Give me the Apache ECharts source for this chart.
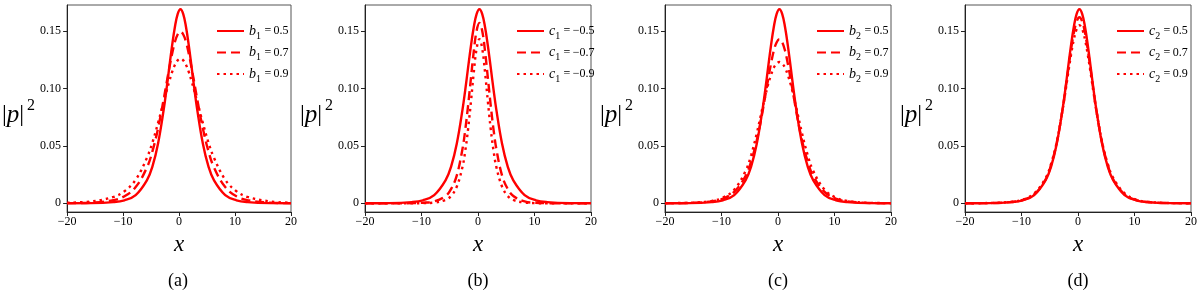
<!DOCTYPE html>
<html><head><meta charset="utf-8">
<script src="https://cdn.jsdelivr.net/npm/echarts@6/dist/echarts.min.js"></script>
<style>html,body{margin:0;padding:0;background:#fff}#c{width:1200px;height:292px}</style>
</head><body><div id="c"></div>
<script>
// ---- data ----
const xValues = [-20, -15.75, -11.75, -9.75, -7.75, -5.75, -4.75, -3.75, -2.75, -2.25, -1.75, -1.25, -0.75, -0.25, 0.25, 0.75, 1.25, 1.75, 2.25, 2.75, 3.25, 4.25, 5.25, 6.25, 8.25, 10.25, 12.25, 16.25, 20];
const xTicks = [-20, -10, 0, 10, 20];
const yTicks = [0, 0.05, 0.10, 0.15];
const panelLabels = ['(a)', '(b)', '(c)', '(d)'];
const paramSymbols = [['b', '1'], ['c', '1'], ['b', '2'], ['c', '2']];
const paramValues = [['0.5', '0.7', '0.9'], ['−0.5', '−0.7', '−0.9'], ['0.5', '0.7', '0.9'], ['0.5', '0.7', '0.9']];

const baseCurve = [0.00002,0.00013,0.0010,0.0026,0.0071,0.0199,0.0321,0.0521,0.0813,0.0990,0.1183,0.1371,0.1533,0.1648,0.1690,0.1648,0.1533,0.1371,0.1183,0.0990,0.0813,0.0521,0.0321,0.0199,0.0071,0.0026,0.0010,0.00013,0.00002];
const b1_07 = [0.0001,0.00054,0.0027,0.0061,0.0141,0.0311,0.0454,0.0653,0.0904,0.1042,0.1175,0.1301,0.1404,0.1470,0.1495,0.1470,0.1404,0.1301,0.1175,0.1042,0.0904,0.0653,0.0454,0.0311,0.0141,0.0061,0.0027,0.00054,0.0001];
const b1_09 = [0.0005,0.0016,0.0055,0.0105,0.0205,0.0395,0.0530,0.0700,0.0885,0.0975,0.1062,0.1142,0.1205,0.1245,0.1260,0.1245,0.1205,0.1142,0.1062,0.0975,0.0885,0.0700,0.0530,0.0395,0.0205,0.0105,0.0055,0.0016,0.0005];
const c1_07 = [0,0.00001,0.00011,0.00046,0.0016,0.0063,0.0126,0.0243,0.0473,0.0642,0.0853,0.1090,0.1322,0.1501,0.1570,0.1501,0.1322,0.1090,0.0853,0.0642,0.0473,0.0243,0.0126,0.0063,0.0016,0.00046,0.00011,0.00001,0];
const c1_09 = [0,0,0.00003,0.00013,0.00063,0.0029,0.0064,0.0146,0.0316,0.0458,0.0649,0.0885,0.1138,0.1347,0.1430,0.1347,0.1138,0.0885,0.0649,0.0458,0.0316,0.0146,0.0064,0.0029,0.00063,0.00013,0.00003,0,0];
const b2_07 = [0.00006,0.0003,0.0017,0.0040,0.0099,0.0237,0.0365,0.0549,0.0795,0.0937,0.1078,0.1213,0.1328,0.1401,0.1430,0.1401,0.1328,0.1213,0.1078,0.0937,0.0795,0.0549,0.0365,0.0237,0.0099,0.0040,0.0017,0.0003,0.00006];
const b2_09 = [0.0001,0.0004,0.0020,0.0049,0.0118,0.0280,0.0420,0.0610,0.0830,0.0935,0.1035,0.1115,0.1180,0.1215,0.1230,0.1215,0.1180,0.1115,0.1035,0.0935,0.0830,0.0610,0.0420,0.0280,0.0118,0.0049,0.0020,0.0004,0.0001];
const c2_07 = [0.00003,0.00018,0.0011,0.0029,0.0078,0.0206,0.0337,0.0531,0.0810,0.0980,0.1158,0.1332,0.1481,0.1581,0.1620,0.1581,0.1481,0.1332,0.1158,0.0980,0.0810,0.0531,0.0337,0.0206,0.0078,0.0029,0.0011,0.00018,0.00003];
const c2_09 = [0.00005,0.00022,0.0013,0.0032,0.0087,0.0219,0.0346,0.0536,0.0806,0.0964,0.1130,0.1288,0.1424,0.1516,0.1550,0.1516,0.1424,0.1288,0.1130,0.0964,0.0806,0.0536,0.0346,0.0219,0.0087,0.0032,0.0013,0.00022,0.00005];

const panelCurves = [
  [baseCurve, b1_07, b1_09],
  [baseCurve, c1_07, c1_09],
  [baseCurve, b2_07, b2_09],
  [baseCurve, c2_07, c2_09]
];

// ---- styling / layout ----
const SERIF = 'Liberation Serif';
const RED = '#ff0000';
const lineTypes = ['solid', [9, 5], [2.5, 4]];
const panelW = 300, gridLeft = 65, gridTop = 5, gridW = 226, gridH = 207;

const grids = [], xAxes = [], yAxes = [], series = [], legends = [], graphics = [];
const nameInfo = {};

for (let p = 0; p < 4; p++) {
  const off = p * panelW;
  grids.push({left: gridLeft + off, top: gridTop, width: gridW, height: gridH, containLabel: false,
    show: true, borderColor: '#555', borderWidth: 1, backgroundColor: 'transparent'});
  xAxes.push({
    type: 'value', gridIndex: p, min: -20, max: 20, interval: 10,
    name: 'x', nameLocation: 'middle', nameGap: 21,
    nameTextStyle: {fontFamily: SERIF, fontStyle: 'italic', fontSize: 23, color: '#000'},
    axisLine: {show: true, onZero: false, lineStyle: {color: '#222', width: 1}},
    axisTick: {show: true, inside: false, length: 4, lineStyle: {color: '#222'}},
    axisLabel: {fontFamily: SERIF, fontSize: 12, color: '#000', margin: 4,
      formatter: v => v < 0 ? '−' + Math.abs(v) : String(v)},
    splitLine: {show: false}
  });
  yAxes.push({
    type: 'value', gridIndex: p, min: -0.0076, max: 0.1727,
    name: '{n||}{i|p}{n||}{s|2}', nameLocation: 'middle', nameRotate: 0, nameGap: 32,
    nameTextStyle: {padding: [13, 0, 0, 0], rich: {
      n: {fontFamily: SERIF, fontSize: 24, color: '#000'},
      i: {fontFamily: SERIF, fontStyle: 'italic', fontSize: 25, color: '#000'},
      s: {fontFamily: SERIF, fontSize: 16, color: '#000', padding: [0, 0, 18, 3]}
    }},
    axisLine: {show: true, onZero: false, lineStyle: {color: '#222', width: 1}},
    axisTick: {show: true, inside: false, length: 4, customValues: yTicks, lineStyle: {color: '#222'}},
    axisLabel: {fontFamily: SERIF, fontSize: 12, color: '#000', margin: 6, customValues: yTicks,
      formatter: v => Math.abs(v) < 1e-9 ? '0' : v.toFixed(2)},
    splitLine: {show: false}
  });
  const names = [];
  for (let k = 0; k < 3; k++) {
    const [sym, sub] = paramSymbols[p];
    const val = paramValues[p][k];
    const nm = sym + sub + ' = ' + val;
    nameInfo[nm] = {sym, sub, val};
    names.push(nm);
    series.push({
      type: 'line', name: nm, xAxisIndex: p, yAxisIndex: p,
      data: xValues.map((x, i) => [x, panelCurves[p][k][i]]),
      smooth: 0.4, symbol: 'none', clip: true,
      lineStyle: {color: RED, width: 2.4, type: lineTypes[k]},
      itemStyle: {color: RED}
    });
  }
  legends.push({
    orient: 'vertical', left: 216 + off, top: 24, padding: 0,
    itemWidth: 27, itemHeight: 14, itemGap: 4.5, data: names,
    selectedMode: false,
    itemStyle: {opacity: 0},
    formatter: nm => {
      const o = nameInfo[nm];
      return '{i|' + o.sym + '}{s|' + o.sub + '}{n|\u2009=\u2009' + o.val + '}';
    },
    textStyle: {color: '#000', rich: {
      i: {fontFamily: SERIF, fontStyle: 'italic', fontSize: 14, color: '#000'},
      s: {fontFamily: SERIF, fontSize: 10, color: '#000', padding: [10, 1, 0, 0]},
      n: {fontFamily: SERIF, fontSize: 12, color: '#000'}
    }}
  });
  graphics.push({
    type: 'text', x: gridLeft + gridW / 2 + off, y: 281,
    style: {text: panelLabels[p], fontFamily: SERIF, fontSize: 18, fill: '#000',
      textAlign: 'center', textVerticalAlign: 'middle'}
  });
}

const chart = echarts.init(document.getElementById('c'), null, {renderer: 'canvas'});
chart.setOption({
  animation: false,
  backgroundColor: '#fff',
  grid: grids, xAxis: xAxes, yAxis: yAxes, series: series, legend: legends,
  graphic: graphics
});
</script></body></html>
